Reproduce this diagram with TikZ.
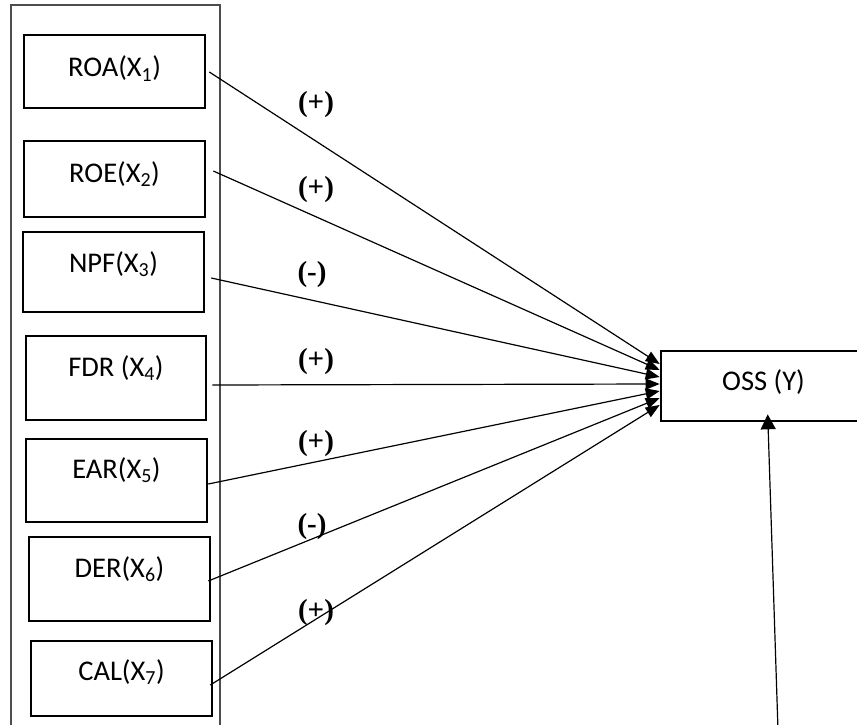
\documentclass[tikz,border=0pt]{standalone}
\usepackage{fontspec}
\setmainfont{Carlito}
\newfontfamily\signfont{Liberation Serif}
\usetikzlibrary{arrows.meta,calc}
\definecolor{framegray}{HTML}{4D4D4D}
\begin{document}
\begin{tikzpicture}[x=1pt,y=-1pt,
  varbox/.style={draw,line width=2.6pt,inner sep=0pt,minimum width=181pt},
  boxtext/.style={anchor=base,inner sep=0pt,font=\fontsize{28.5}{34}\selectfont},
  sign/.style={inner sep=0pt,font=\signfont\bfseries\fontsize{29}{34}\selectfont},
  link/.style={line width=1.2pt,-{Triangle[width=11pt,length=14pt]}},
  frame/.style={draw=framegray,line width=1.6pt}
]
\useasboundingbox (0,0) rectangle (857,725);
\clip (0,0) rectangle (857,725);

% column holding the explanatory variables
\draw[frame] (11,5) rectangle (220,745);

% explanatory variables
\node[varbox,minimum height=73pt] (roa) at (114.5,71.5) {};
\node[varbox,minimum height=76pt] (roe) at (114.5,179) {};
\node[varbox,minimum height=80pt] (npf) at (113.5,272) {};
\node[varbox,minimum width=180pt,minimum height=84pt] (fdr) at (116,378) {};
\node[varbox,minimum height=83pt] (ear) at (116.5,480.5) {};
\node[varbox,minimum height=84pt] (der) at (119.5,579) {};
\node[varbox,minimum height=75pt] (cal) at (121.5,678.5) {};

\node[boxtext] (troa) at (114.5,77) {ROA(X\textsubscript{1})};
\node[boxtext] (troe) at (114.5,182) {ROE(X\textsubscript{2})};
\node[boxtext] (tnpf) at (113.5,272) {NPF(X\textsubscript{3})};
\node[boxtext] (tfdr) at (116,376) {FDR (X\textsubscript{4})};
\node[boxtext] (tear) at (116.5,478) {EAR(X\textsubscript{5})};
\node[boxtext] (tder) at (119.5,577) {DER(X\textsubscript{6})};
\node[boxtext] (tcal) at (121.5,680) {CAL(X\textsubscript{7})};

% dependent variable
\node[draw,line width=2.6pt,inner sep=0pt,minimum width=240pt,minimum height=70pt] (oss) at (781,386) {};
\node[boxtext] (toss) at (763.5,390) {OSS (Y)};

% hypothesised effects
\draw[link] ($(roa.east)+(3,0.5)$) -- ($(oss.west)+(0,-22)$);
\draw[link] ($(roe.east)+(7,-8)$) -- ($(oss.west)+(0,-16)$);
\draw[link] ($(npf.east)+(6,6)$) -- ($(oss.west)+(0,-9)$);
\draw[link] ($(fdr.east)+(5,7)$) -- ($(oss.west)+(0,-2)$);
\draw[link] ($(ear.east)+(0,3.5)$) -- ($(oss.west)+(0,5)$);
\draw[link] ($(der.east)+(-3,2)$) -- ($(oss.west)+(0,12)$);
\draw[link] ($(cal.east)+(-3,6.5)$) -- ($(oss.west)+(0,19)$);

% link entering from below
\coordinate (lower) at (778,730);
\draw[line width=1.2pt,-{Triangle[width=15pt,length=15pt]}] (lower) -- ($(oss.south west)+(108,-8)$);

% signs of the effects
\node[sign] (s1) at (316,105) {(+)};
\node[sign] (s2) at (316,190) {(+)};
\node[sign] (s3) at (312,275) {(-)};
\node[sign] (s4) at (316,362) {(+)};
\node[sign] (s5) at (316,444) {(+)};
\node[sign] (s6) at (312,527) {(-)};
\node[sign] (s7) at (316,613) {(+)};
\end{tikzpicture}
\end{document}
